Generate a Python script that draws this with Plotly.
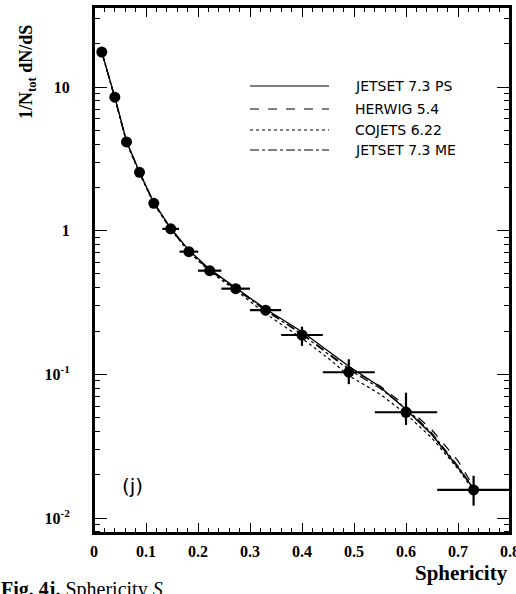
import plotly.graph_objects as go

# ---- data ----
S_data = [0.015, 0.04, 0.0625, 0.0875, 0.115, 0.1475, 0.1825, 0.2225, 0.2725, 0.33, 0.40, 0.49, 0.60, 0.73]
S_halfwidth = [0.0, 0.0, 0.0, 0.0, 0.008, 0.016, 0.018, 0.0225, 0.0275, 0.03, 0.04, 0.05, 0.06, 0.07]
val_data = [17.5, 8.5, 4.15, 2.55, 1.55, 1.03, 0.715, 0.527, 0.395, 0.28, 0.188, 0.1035, 0.0545, 0.0157]
err_up = [0.8, 0.4, 0.2, 0.1, 0.06, 0.04, 0.03, 0.03, 0.025, 0.022, 0.027, 0.024, 0.02, 0.004]
err_dn = [0.8, 0.4, 0.2, 0.1, 0.06, 0.04, 0.03, 0.03, 0.025, 0.022, 0.03, 0.018, 0.01, 0.0035]

S_model = [0.015, 0.04, 0.0625, 0.0875, 0.115, 0.1475, 0.1825, 0.2225, 0.2725, 0.33, 0.40, 0.45, 0.49, 0.55, 0.60, 0.65, 0.70, 0.73]
jetset_ps = [17.5, 8.5, 4.2, 2.55, 1.57, 1.04, 0.73, 0.54, 0.40, 0.285, 0.198, 0.145, 0.114, 0.082, 0.057, 0.038, 0.0225, 0.016]
herwig = [17.5, 8.4, 4.15, 2.55, 1.56, 1.03, 0.72, 0.53, 0.395, 0.28, 0.192, 0.14, 0.11, 0.083, 0.060, 0.041, 0.025, 0.0165]
cojets = [17.5, 8.4, 4.1, 2.5, 1.54, 1.02, 0.71, 0.52, 0.385, 0.265, 0.178, 0.13, 0.098, 0.073, 0.053, 0.036, 0.022, 0.0155]
jetset_me = [17.5, 8.45, 4.15, 2.55, 1.56, 1.03, 0.72, 0.53, 0.395, 0.278, 0.19, 0.138, 0.108, 0.080, 0.058, 0.039, 0.023, 0.016]

legend_names = ["JETSET 7.3 PS", "HERWIG 5.4", "COJETS 6.22", "JETSET 7.3 ME"]
legend_dash = ["solid", "dash", "dot", "dashdot"]
model_series = [jetset_ps, herwig, cojets, jetset_me]

x_ticks = [0, 0.1, 0.2, 0.3, 0.4, 0.5, 0.6, 0.7, 0.8]
x_ticktext = ["0", "0.1", "0.2", "0.3", "0.4", "0.5", "0.6", "0.7", "0.8"]
y_ticks = [0.01, 0.1, 1, 10]
y_ticktext = ["10<sup>-2</sup>", "10<sup>-1</sup>", "1", "10"]

y_minor = [m * d for d in (0.001, 0.01, 0.1, 1, 10) for m in range(2, 10)]

fig = go.Figure()

for vals, dash in zip(model_series, legend_dash):
    fig.add_trace(go.Scatter(
        x=S_model, y=vals, mode="lines",
        line=dict(color="black", width=1.4 if dash == "solid" else 1.2, dash=dash),
        showlegend=False, hoverinfo="skip"))

fig.add_trace(go.Scatter(
    x=S_data, y=val_data, mode="markers",
    marker=dict(color="black", size=11),
    error_x=dict(type="data", array=S_halfwidth, color="black", thickness=2.2, width=0),
    error_y=dict(type="data", array=err_up, arrayminus=err_dn, color="black", thickness=2.2, width=0),
    showlegend=False))

serif = "Liberation Serif"
sans = "DejaVu Sans"

fig.update_xaxes(
    range=[0, 0.8], tickvals=x_ticks, ticktext=x_ticktext,
    ticks="inside", ticklen=10, tickwidth=1.2, tickcolor="black",
    minor=dict(dtick=0.02, ticks="inside", ticklen=5, tickwidth=1, tickcolor="black", showgrid=False),
    showline=True, linecolor="black", linewidth=2, mirror="ticks",
    showgrid=False, zeroline=False, automargin=False,
    tickfont=dict(family=serif, size=16, color="black", weight="bold"),
    ticklabelstandoff=3, ticklabeloverflow="allow")
fig.update_yaxes(
    type="log", range=[-2.104, 1.557], tickvals=y_ticks, ticktext=y_ticktext,
    ticks="inside", ticklen=13, tickwidth=1.2, tickcolor="black",
    minor=dict(tickvals=y_minor, ticks="inside", ticklen=6, tickwidth=1, tickcolor="black", showgrid=False),
    showline=True, linecolor="black", linewidth=2, mirror="ticks",
    showgrid=False, zeroline=False, automargin=False,
    tickfont=dict(family=serif, size=16, color="black", weight="bold"),
    ticklabelstandoff=19)

# legend drawn as line samples + labels
ys = [86, 109, 130, 150]
shapes = [dict(type="rect", xref="paper", yref="paper", x0=0, x1=1, y0=0, y1=1,
               line=dict(color="black", width=2))]
annotations = []
for name, dash, yp in zip(legend_names, legend_dash, ys):
    yf = 1 - (yp - 7) / 526
    shapes.append(dict(type="line", xref="paper", yref="paper",
                       x0=(250 - 94) / 416, x1=(329 - 94) / 416, y0=yf, y1=yf,
                       line=dict(color="black", width=1.2, dash=dash)))
    annotations.append(dict(text=name, xref="paper", yref="paper",
                            x=(353 - 94) / 416, y=yf, xanchor="left", yanchor="middle",
                            showarrow=False, font=dict(family=sans, size=14, color="black")))

annotations.append(dict(text="(j)", x=0.074, y=-1.777, xref="x", yref="y",
                        xanchor="center", yanchor="middle",
                        showarrow=False, font=dict(family=sans, size=20, color="black")))
annotations.append(dict(text="<b>1/N<sub>tot</sub> dN/dS</b>", xref="paper", yref="paper",
                        x=(27 - 94) / 416, y=1 - (72 - 7) / 526, textangle=-90,
                        xanchor="center", yanchor="middle",
                        showarrow=False, font=dict(family=serif, size=18, color="black")))
annotations.append(dict(text="<b>Sphericity</b>", xref="paper", yref="paper",
                        x=(510 - 94) / 416, y=1 - (573 - 7) / 526, xanchor="right", yanchor="middle",
                        showarrow=False, font=dict(family=serif, size=21, color="black")))
annotations.append(dict(text="<b>Fig. 4j.</b> Sphericity <i>S</i>", xref="paper", yref="paper",
                        x=(-1 - 94) / 416, y=1 - (589 - 7) / 526, xanchor="left", yanchor="middle",
                        showarrow=False, font=dict(family=serif, size=20, color="black")))

fig.update_layout(
    width=516, height=594,
    margin=dict(l=94, r=6, t=7, b=61),
    paper_bgcolor="white", plot_bgcolor="white",
    showlegend=False,
    shapes=shapes, annotations=annotations)

fig.write_html("out.html", config={"displayModeBar": False},
               post_script="document.body.style.margin='0';")
